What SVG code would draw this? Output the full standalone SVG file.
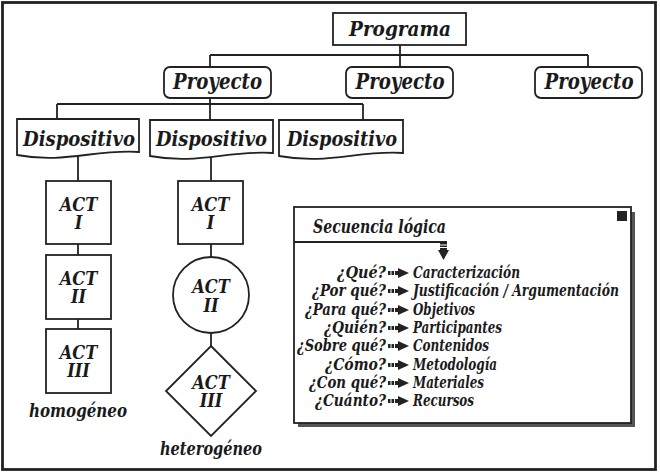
<svg xmlns="http://www.w3.org/2000/svg" width="660" height="474" viewBox="0 0 660 474">
<style>
.t{font-family:"DejaVu Serif Condensed","DejaVu Serif","Liberation Serif",serif;font-weight:bold;font-style:italic;fill:#1a1a1a}
.c{text-anchor:middle}
.e{text-anchor:end}
.box{fill:#fff;stroke:#222;stroke-width:1.8}
.ln{fill:none;stroke:#222;stroke-width:1.8}
</style>
<defs>
<symbol id="arr" viewBox="0 0 21 10" width="21" height="10">
<rect x="0" y="3" width="2.5" height="4" fill="#222"/>
<rect x="3.5" y="3" width="2.5" height="4" fill="#222"/>
<rect x="7" y="3" width="4" height="4" fill="#222"/>
<polygon points="10,0 21,5 10,10" fill="#222"/>
</symbol>
</defs>
<rect x="2.5" y="2.5" width="653" height="467" fill="#fff" stroke="#222" stroke-width="2.8"/>
<g id="connectors" class="ln">
<path d="M400,45 V67 M210,55 H588 M210,55 V67 M588,55 V67"/>
<path d="M210,98 V119 M57,104 H363 M57,104 V119 M363,104 V119"/>
<path d="M78,150 V181 M78,244 V255 M78,319 V329"/>
<path d="M211,150 V181 M211,244 V257 M211,333 V346"/>
</g>
<g id="programa"><rect class="box" x="333" y="13" width="133" height="32"/><text class="t c" x="400" y="36" font-size="21" textLength="102" lengthAdjust="spacingAndGlyphs">Programa</text></g>
<g id="proyecto1"><rect class="box" x="164" y="67" width="107" height="31" rx="6"/><text class="t c" x="217.5" y="89" font-size="22" textLength="89" lengthAdjust="spacingAndGlyphs">Proyecto</text></g>
<g id="proyecto2"><rect class="box" x="346" y="67" width="107" height="31" rx="6"/><text class="t c" x="400" y="89" font-size="22" textLength="89" lengthAdjust="spacingAndGlyphs">Proyecto</text></g>
<g id="proyecto3"><rect class="box" x="535" y="67" width="107" height="31" rx="6"/><text class="t c" x="589" y="89" font-size="22" textLength="89" lengthAdjust="spacingAndGlyphs">Proyecto</text></g>
<g id="dispositivo1"><path class="box" d="M17,119 H139 V152 C95,149 65,164 17,155 Z"/><text class="t c" x="79" y="146" font-size="21" textLength="112" lengthAdjust="spacingAndGlyphs">Dispositivo</text></g>
<g id="dispositivo2"><path class="box" d="M150,120 H273 V153 C228,150 198,165 150,156 Z"/><text class="t c" x="211.5" y="146" font-size="21" textLength="111" lengthAdjust="spacingAndGlyphs">Dispositivo</text></g>
<g id="dispositivo3"><path class="box" d="M279,120 H403 V153 C358,150 328,165 279,156 Z"/><text class="t c" x="342" y="146" font-size="21" textLength="110" lengthAdjust="spacingAndGlyphs">Dispositivo</text></g>
<g id="act1a"><rect class="box" x="46" y="181" width="65" height="63"/><text class="t c" font-size="18"><tspan x="78.5" y="211">ACT</tspan><tspan x="78.5" y="229">I</tspan></text></g>
<g id="act2a"><rect class="box" x="46" y="255" width="65" height="64"/><text class="t c" font-size="18"><tspan x="78.5" y="285">ACT</tspan><tspan x="78.5" y="303">II</tspan></text></g>
<g id="act3a"><rect class="box" x="46" y="329" width="65" height="64"/><text class="t c" font-size="18"><tspan x="78.5" y="359">ACT</tspan><tspan x="78.5" y="377">III</tspan></text></g>
<g id="homogeneo"><text class="t c" x="78" y="417" font-size="18" textLength="98" lengthAdjust="spacingAndGlyphs">homogéneo</text></g>
<g id="act1b"><rect class="box" x="178" y="181" width="65" height="63"/><text class="t c" font-size="18"><tspan x="210.5" y="211">ACT</tspan><tspan x="210.5" y="229">I</tspan></text></g>
<g id="act2b"><circle class="box" cx="211" cy="295" r="38"/><text class="t c" font-size="18"><tspan x="211" y="293">ACT</tspan><tspan x="211" y="312">II</tspan></text></g>
<g id="act3b"><polygon class="box" points="211,346 256,391 211,436 166,391"/><text class="t c" font-size="18"><tspan x="211" y="389">ACT</tspan><tspan x="211" y="407">III</tspan></text></g>
<g id="heterogeneo"><text class="t c" x="211" y="455" font-size="18" textLength="102" lengthAdjust="spacingAndGlyphs">heterogéneo</text></g>
<g id="secuencia">
<rect x="298" y="212" width="337" height="215" fill="#555"/>
<rect class="box" x="294" y="207" width="337" height="216"/>
<rect x="617" y="211" width="10" height="10" fill="#222"/>
<path class="ln" d="M294,242 H447"/>
<g fill="#222"><rect x="440" y="243" width="7" height="1.5"/><rect x="440" y="245.5" width="7" height="1.5"/><rect x="440" y="248" width="7" height="2"/><polygon points="438,250 449,250 443.5,260"/></g>
<text class="t" x="313" y="233" font-size="18" textLength="133" lengthAdjust="spacingAndGlyphs">Secuencia lógica</text>
<g font-size="16">
<text class="t e" x="386" y="278" textLength="49" lengthAdjust="spacingAndGlyphs">¿Qué?</text>
<text class="t e" x="386" y="296" textLength="74" lengthAdjust="spacingAndGlyphs">¿Por qué?</text>
<text class="t e" x="386" y="315" textLength="81" lengthAdjust="spacingAndGlyphs">¿Para qué?</text>
<text class="t e" x="386" y="333" textLength="62" lengthAdjust="spacingAndGlyphs">¿Quién?</text>
<text class="t e" x="386" y="351" textLength="89" lengthAdjust="spacingAndGlyphs">¿Sobre qué?</text>
<text class="t e" x="386" y="370" textLength="61" lengthAdjust="spacingAndGlyphs">¿Cómo?</text>
<text class="t e" x="386" y="388" textLength="77" lengthAdjust="spacingAndGlyphs">¿Con qué?</text>
<text class="t e" x="386" y="406" textLength="71" lengthAdjust="spacingAndGlyphs">¿Cuánto?</text>
<text class="t" x="413" y="278" textLength="107" lengthAdjust="spacingAndGlyphs">Caracterización</text>
<text class="t" x="413" y="296" textLength="206" lengthAdjust="spacingAndGlyphs">Justificación / Argumentación</text>
<text class="t" x="413" y="315" textLength="62" lengthAdjust="spacingAndGlyphs">Objetivos</text>
<text class="t" x="413" y="333" textLength="89" lengthAdjust="spacingAndGlyphs">Participantes</text>
<text class="t" x="413" y="351" textLength="76" lengthAdjust="spacingAndGlyphs">Contenidos</text>
<text class="t" x="413" y="370" textLength="84" lengthAdjust="spacingAndGlyphs">Metodología</text>
<text class="t" x="413" y="388" textLength="71" lengthAdjust="spacingAndGlyphs">Materiales</text>
<text class="t" x="413" y="406" textLength="61" lengthAdjust="spacingAndGlyphs">Recursos</text>
</g>
<use href="#arr" x="388" y="268"/>
<use href="#arr" x="388" y="286"/>
<use href="#arr" x="388" y="305"/>
<use href="#arr" x="388" y="323"/>
<use href="#arr" x="388" y="341"/>
<use href="#arr" x="388" y="360"/>
<use href="#arr" x="388" y="378"/>
<use href="#arr" x="388" y="396"/>
</g>
</svg>
